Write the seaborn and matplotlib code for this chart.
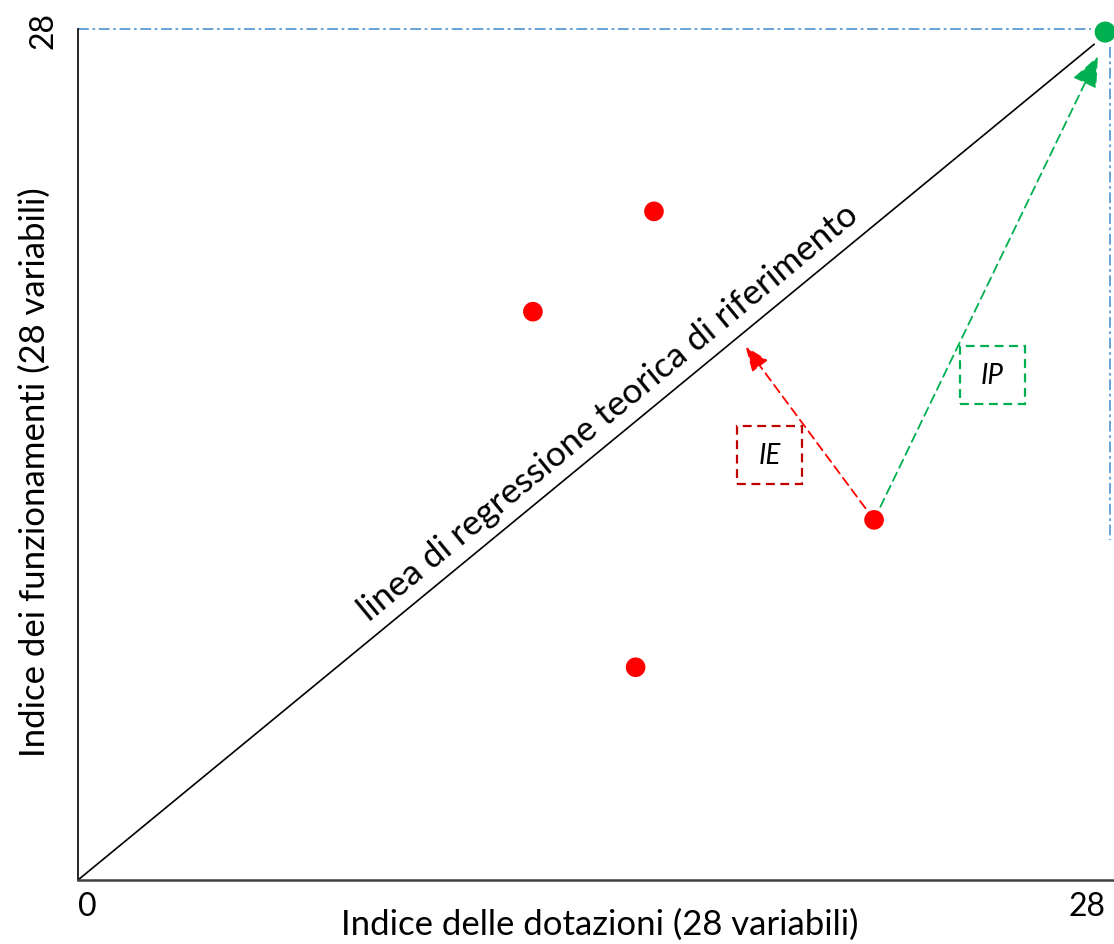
import matplotlib
matplotlib.use("Agg")
import numpy as np
import matplotlib.pyplot as plt
from matplotlib.patches import Rectangle
import seaborn as sns
import pandas as pd

# ---- data ----
red_x = [15.7, 12.4, 21.7, 15.2]
red_y = [22.0, 18.7, 11.85, 7.0]
green_x = [28.0]
green_y = [27.9]
diag_x = [0.0, 27.7]
diag_y = [0.0, 27.5]
ie_tip = (18.2, 17.55)
ip_tip = (27.8, 27.1)
ie_label = (18.85, 14.0)
ip_label = (24.93, 16.62)
x_tick_vals = [0, 28]
x_tick_labels = ["0", "28"]
y_tick_vals = [28]
y_tick_labels = ["28"]

sns.set_theme(style="white")
plt.rcParams['font.family'] = ['Lato', 'DejaVu Sans']
plt.rcParams['text.color'] = 'black'
plt.rcParams['axes.labelcolor'] = 'black'
plt.rcParams['xtick.color'] = 'black'
plt.rcParams['ytick.color'] = 'black'

fig = plt.figure(figsize=(11.14, 9.45), dpi=100)
ax = fig.add_axes([78/1114, 64/945, (1114-78)/1114, (881-20)/945])
ax.set_xlim(0, 28.24)
ax.set_ylim(0, 28.33)

# reference lines (blue dash-dot)
ax.plot([0, 27.6], [28, 28], color="#5B9BD5", lw=1.3, ls=(0, (6, 2, 1.5, 2)), clip_on=False)
ax.plot([28.13, 28.13], [27.4, 11.2], color="#5B9BD5", lw=1.3, ls=(0, (6, 2, 1.5, 2)), clip_on=False)

# diagonal regression line
sns.lineplot(x=diag_x, y=diag_y, color="black", lw=1.2, ax=ax)

# arrows
start = (red_x[2], red_y[2])
ax.annotate("", xy=ie_tip, xytext=start,
            arrowprops=dict(arrowstyle="-|>,head_length=0.75,head_width=0.3", mutation_scale=20,
                            color="#FF0000", lw=1.3, ls=(0, (5, 3)), shrinkA=0, shrinkB=0))
ax.annotate("", xy=ip_tip, xytext=start,
            arrowprops=dict(arrowstyle="-|>,head_length=0.95,head_width=0.4", mutation_scale=20,
                            color="#00B050", lw=1.3, ls=(0, (5, 3)), shrinkA=0, shrinkB=0))

# points
red_df = pd.DataFrame({"x": red_x, "y": red_y})
sns.scatterplot(data=red_df, x="x", y="y", color="#FF0000", s=200, edgecolor="none", ax=ax, zorder=5)
sns.scatterplot(x=green_x, y=green_y, color="#00B050", s=230, edgecolor="none", ax=ax, zorder=5, clip_on=False)

# boxes
box_w, box_h = 65 / 36.68, 58 / 30.39
for (cx, cy), txt, ec in [(ie_label, "IE", "#C00000"), (ip_label, "IP", "#00B050")]:
    ax.add_patch(Rectangle((cx - box_w / 2, cy - box_h / 2), box_w, box_h, fill=False,
                           ec=ec, lw=1.6, ls=(0, (4, 2.5))))
    ax.text(cx, cy, txt, fontsize=20, style="italic", ha="center", va="center")

# diagonal label (screen angle of the diagonal)
p0 = ax.transData.transform((diag_x[0], diag_y[0]))
p1 = ax.transData.transform((diag_x[1], diag_y[1]))
ang = np.degrees(np.arctan2(p1[1] - p0[1], p1[0] - p0[0]))
off = 10.4
ax.annotate("linea di regressione teorica di riferimento", xy=(14.88, 14.78),
            xytext=(-off * np.sin(np.radians(ang)), off * np.cos(np.radians(ang))),
            textcoords="offset points", rotation=ang,
            rotation_mode="anchor", ha="center", va="baseline", fontsize=25.5)

# spines / ticks
sns.despine(ax=ax, top=True, right=True)
ax.spines['left'].set_bounds(0, 28)
ax.spines['left'].set_color("black")
ax.spines['left'].set_linewidth(1.2)
ax.spines['bottom'].set_color("#404040")
ax.spines['bottom'].set_linewidth(1.8)

ax.set_xticks(x_tick_vals)
ax.set_xticklabels(x_tick_labels, fontsize=23)
for lab, ha in zip(ax.get_xticklabels(), ["left", "right"]):
    lab.set_ha(ha)
ax.set_yticks(y_tick_vals)
ax.set_yticklabels(y_tick_labels, fontsize=23, rotation=90, va="center")
ax.tick_params(axis="both", length=0)
ax.tick_params(axis="x", pad=8)
ax.tick_params(axis="y", pad=14)

ax.set_xlabel("Indice delle dotazioni (28 variabili)", fontsize=25, va="center")
ax.xaxis.set_label_coords(0.504, -0.051)
ax.set_ylabel("Indice dei funzionamenti (28 variabili)", fontsize=25, va="center")
ax.yaxis.set_label_coords(-0.0415, 0.475)

fig.savefig("out.png", dpi=100)
